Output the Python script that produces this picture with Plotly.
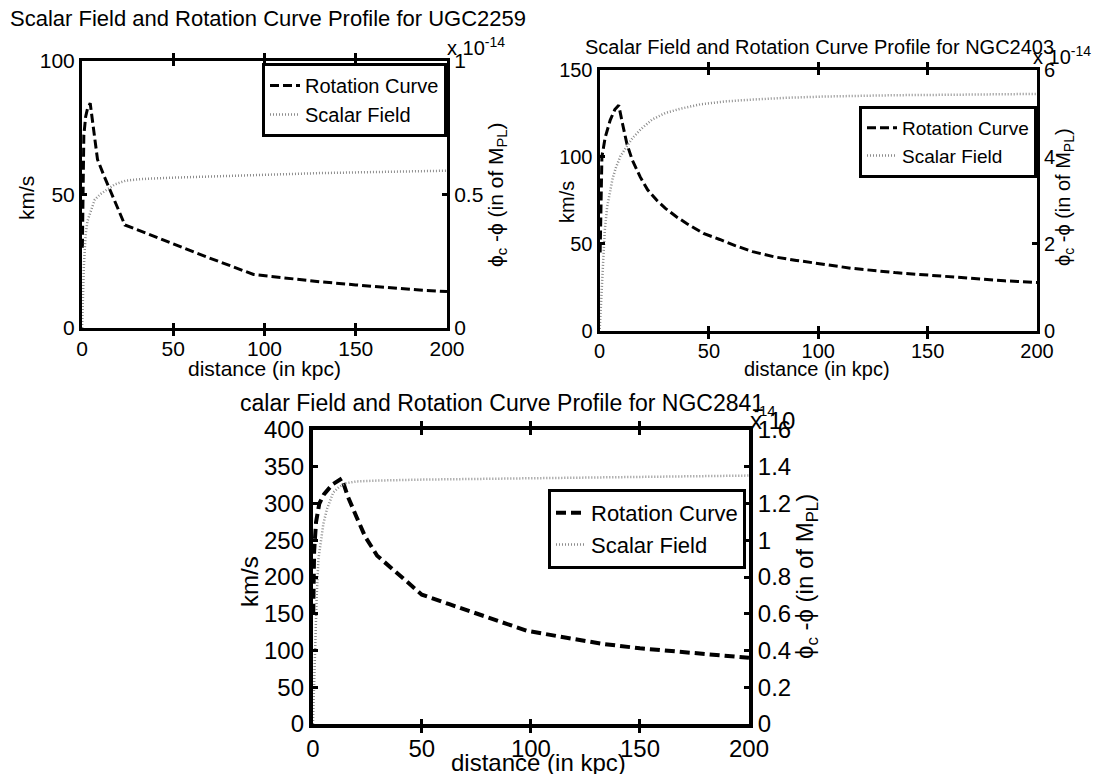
import plotly.graph_objects as go

W, H = 1096, 774
FONT = "Liberation Sans, Arial, Helvetica, sans-serif"

# ---------------- data ----------------
# UGC2259
ugc_r = [0.2, 0.5, 1.0, 2.0, 3.0, 4.5, 6.5, 8.5, 12, 16, 20, 23.5, 35, 50, 65, 80, 94, 110, 130, 150, 170, 185, 200]
ugc_v = [30, 50, 72, 79, 82, 84, 73, 63, 57, 50.5, 44, 38.5, 35.5, 31.3, 27.4, 23.6, 20.0, 18.8, 17.3, 16.1, 14.9, 14.2, 13.6]
ugc_sr = [0.05, 0.5, 1, 2, 3, 4, 5, 7, 10, 14, 18, 24, 33, 50, 72, 100, 130, 160, 200]
ugc_s = [0.0, 0.12, 0.23, 0.35, 0.40, 0.42, 0.44, 0.48, 0.50, 0.52, 0.537, 0.551, 0.557, 0.562, 0.567, 0.574, 0.579, 0.583, 0.588]

# NGC2403
n2403_r = [0.3, 0.6, 1.1, 2.6, 4.9, 7.0, 8.8, 10.5, 12.5, 15, 18.6, 22, 26.2, 30, 35.3, 40, 47.5, 55, 62, 70, 80, 90, 100, 115, 135, 150, 168, 185, 200]
n2403_v = [45, 75, 100, 111, 121, 127, 129.5, 119, 107.5, 98, 88.4, 81, 75, 70.5, 65.4, 61.5, 56, 52.5, 49, 45.5, 42.5, 40.5, 38.6, 36, 33.5, 32, 30.1, 28.8, 27.8]
n2403_sr = [0.1, 0.8, 1.5, 2.4, 3.5, 4.9, 6, 7.5, 9.5, 12.5, 15, 18.7, 24, 30, 37, 46, 58, 70, 85, 103, 120, 135, 160, 180, 200]
n2403_s = [0.05, 0.8, 1.6, 2.3, 2.85, 3.25, 3.5, 3.75, 4.0, 4.24, 4.42, 4.62, 4.85, 5.0, 5.1, 5.2, 5.27, 5.31, 5.35, 5.38, 5.4, 5.41, 5.42, 5.43, 5.44]

# NGC2841
n2841_r = [0.2, 0.6, 1.5, 3, 5, 9, 13.3, 16, 20, 24, 29.5, 38, 50, 62.6, 80, 98, 115, 133, 150, 168, 186, 200]
n2841_v = [150, 235, 275, 300, 312, 326, 334, 310, 282, 255, 229, 207, 176, 163, 145, 127, 118, 109, 103, 98.5, 94, 90]
n2841_sr = [0.05, 0.3, 1.0, 1.8, 2.6, 3.7, 4.85, 6.5, 9.4, 12, 15, 20, 30, 50, 80, 120, 160, 200]
n2841_s = [0.0, 0.1, 0.4, 0.7, 0.9, 1.0, 1.09, 1.17, 1.26, 1.29, 1.31, 1.32, 1.325, 1.33, 1.335, 1.342, 1.348, 1.352]

x_ticks = [0, 50, 100, 150, 200]


def px(x):
    return x / W


def py(y):
    return 1 - y / H


panels = [
    dict(r=ugc_r, v=ugc_v, sr=ugc_sr, s=ugc_s,
         xd=(82, 447), yd=(60.5, 328), yr=[0, 100], yt=50, y2r=[0, 1], y2t=0.5,
         fs=21, lfs=20, lw=3, dash="9px,4px", leg=(447, 63)),
    dict(r=n2403_r, v=n2403_v, sr=n2403_sr, s=n2403_s,
         xd=(599.5, 1037), yd=(69.5, 331), yr=[0, 150], yt=50, y2r=[0, 6], y2t=2,
         fs=20, lfs=19, lw=3, dash="9px,4px", leg=(1037, 106)),
    dict(r=n2841_r, v=n2841_v, sr=n2841_sr, s=n2841_s,
         xd=(312.8, 749), yd=(430, 724), yr=[0, 400], yt=50, y2r=[0, 1.6], y2t=0.2,
         fs=24, lfs=22, lw=4, dash="10px,5px", leg=(746, 489)),
]

fig = go.Figure()
layout = {}
for i, p in enumerate(panels):
    xid = "x" if i == 0 else f"x{i+1}"
    yl = "y" if i == 0 else f"y{2*i+1}"
    yr_id = f"y{2*i+2}"
    legname = "legend" if i == 0 else f"legend{i+1}"

    fig.add_trace(go.Scatter(x=p["r"], y=p["v"], mode="lines", name="Rotation Curve",
                             line=dict(color="black", width=p["lw"], dash=p["dash"]),
                             xaxis=xid, yaxis=yl, legend=legname))
    fig.add_trace(go.Scatter(x=p["sr"], y=p["s"], mode="lines", name="Scalar Field",
                             line=dict(color="#8c8c8c", width=2.5, dash="1px,2px"),
                             xaxis=xid, yaxis=yr_id, legend=legname))

    tf = dict(family=FONT, size=p["fs"], color="black")
    xkey = "xaxis" if i == 0 else f"xaxis{i+1}"
    ylkey = "yaxis" if i == 0 else f"yaxis{2*i+1}"
    yrkey = f"yaxis{2*i+2}"
    common = dict(ticks="inside", ticklen=5, tickwidth=3, tickcolor="black",
                  showline=True, linecolor="black", linewidth=p["lw"],
                  showgrid=False, zeroline=False, tickfont=tf, automargin=False)
    layout[xkey] = dict(domain=[px(p["xd"][0]), px(p["xd"][1])], range=[0, 200],
                        anchor=yl, tickvals=x_ticks, mirror="allticks", **common)
    layout[ylkey] = dict(domain=[py(p["yd"][1]), py(p["yd"][0])], range=p["yr"],
                         anchor=xid, dtick=p["yt"], tick0=0, mirror=True, **common)
    layout[yrkey] = dict(overlaying=yl, side="right", anchor=xid, range=p["y2r"],
                         dtick=p["y2t"], tick0=0, **common)
    layout[legname] = dict(x=px(p["leg"][0]), y=py(p["leg"][1]), xanchor="right",
                           yanchor="top", bgcolor="white", bordercolor="black",
                           borderwidth=3, itemwidth=30, tracegroupgap=0,
                           font=dict(family=FONT, size=p["lfs"], color="black"))


def ann(text, x, y, size, angle=0, xanchor="center", yanchor="middle"):
    return dict(text=text, x=px(x), y=py(y), xref="paper", yref="paper",
                showarrow=False, textangle=angle, xanchor=xanchor, yanchor=yanchor,
                font=dict(family=FONT, size=size, color="black"))


phi_label = "ϕ<sub>c</sub> -ϕ (in of M<sub>PL</sub>)"
annotations = [
    ann("Scalar Field and Rotation Curve Profile for UGC2259", 8, 18, 22, xanchor="left"),
    ann("Scalar Field and Rotation Curve Profile for NGC2403", 583, 47, 20, xanchor="left"),
    ann("calar Field and Rotation Curve Profile for NGC2841", 238, 403, 23, xanchor="left"),
    ann("x 10<sup>-14</sup>", 445, 47, 20, xanchor="left"),
    ann("x 10<sup>-14</sup>", 1031, 56, 20, xanchor="left"),
    ann("x 10", 748, 420, 24, xanchor="left"),
    ann("-14", 752, 410, 15, xanchor="left"),
    ann("km/s", 26, 198, 21, angle=-90),
    ann("km/s", 567, 202, 20, angle=-90),
    ann("km/s", 249, 581, 24, angle=-90),
    ann(phi_label, 497, 195, 21, angle=-90),
    ann(phi_label, 1064, 197, 20, angle=-90),
    ann(phi_label, 806, 577, 24, angle=-90),
    ann("distance (in kpc)", 264, 369, 21),
    ann("distance (in kpc)", 817, 369, 20),
    ann("distance (in kpc)", 538, 762, 24),
]

fig.update_layout(template="none", width=W, height=H, autosize=False,
                  margin=dict(l=0, r=0, t=0, b=0, pad=0, autoexpand=False),
                  paper_bgcolor="white", plot_bgcolor="white",
                  showlegend=True, annotations=annotations, **layout)

fig.write_html("out.html", config={"displayModeBar": False},
               post_script="document.body.style.margin='0';document.body.style.overflow='hidden';")
